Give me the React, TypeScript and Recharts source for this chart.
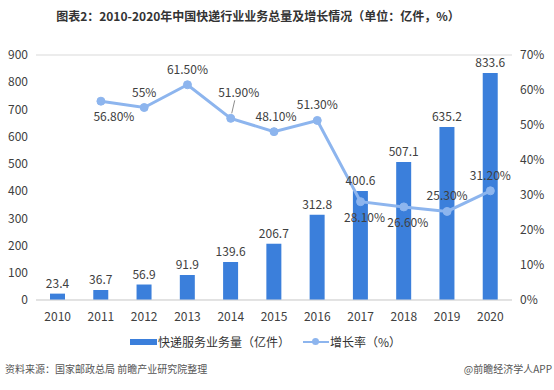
import React from 'react'
import { ComposedChart, Bar, Line, XAxis, YAxis, CartesianGrid, LabelList } from 'recharts'

const years = ['2010', '2011', '2012', '2013', '2014', '2015', '2016', '2017', '2018', '2019', '2020']
const volume = [23.4, 36.7, 56.9, 91.9, 139.6, 206.7, 312.8, 400.6, 507.1, 635.2, 833.6]
const growth: (number | null)[] = [null, 56.8, 55, 61.5, 51.9, 48.1, 51.3, 28.1, 26.6, 25.3, 31.2]
const growthText = ['', '56.80%', '55%', '61.50%', '51.90%', '48.10%', '51.30%', '28.10%', '26.60%', '25.30%', '31.20%']
const leftTicks = [0, 100, 200, 300, 400, 500, 600, 700, 800, 900]
const rightTicks = [0, 10, 20, 30, 40, 50, 60, 70]

const BAR = '#3b7fdb'
const LINE = '#8db5ee'
const FONT = '"Noto Sans CJK SC", "Noto Sans", sans-serif'

const data = years.map((y, i) => ({ year: y, volume: volume[i], growth: growth[i], text: growthText[i] }))

// labels under the point for these years
const below = new Set([1, 7, 8])

const GrowthLabel = (props: any) => {
  const { x, y, index } = props
  const t = growthText[index]
  if (!t || x == null) return null
  if (index === 4) {
    // 51.90% sits up-right with a small leader line
    return (
      <g>
        <line x1={x + 4} y1={y - 18} x2={x + 1} y2={y - 5} stroke="#8c8c8c" strokeWidth={1} />
        <text x={x + 8} y={y - 21} textAnchor="middle" fontSize={12} fill="#404040" fontFamily={FONT}>{t}</text>
      </g>
    )
  }
  const dx = index === 1 ? 13 : index === 7 || index === 8 ? 4 : index === 5 ? 2 : 0
  const ty = below.has(index) ? y + 20 : y - 11
  return (
    <text x={x + dx} y={ty} textAnchor="middle" fontSize={12} fill="#404040" fontFamily={FONT}>{t}</text>
  )
}

export default function App() {
  return (
    <div style={{ position: 'absolute', left: 0, top: 0, width: 554, height: 390, background: '#fff', fontFamily: FONT }}>
      <div style={{ position: 'absolute', left: 0, top: 7, width: 516, textAlign: 'center', fontSize: 12, fontWeight: 'bold', color: '#333' }}>
        图表2：2010-2020年中国快递行业业务总量及增长情况（单位：亿件，%）
      </div>
      <ComposedChart width={554} height={330} data={data} margin={{ top: 55, right: 0, left: 0, bottom: 0 }}>
        <CartesianGrid vertical={false} stroke="#d9d9d9" />
        <XAxis dataKey="year" axisLine={{ stroke: '#d9d9d9' }} tickLine={false} height={30} tickMargin={6}
          tick={{ fontSize: 12, fill: '#404040', fontFamily: FONT }} interval={0} />
        <YAxis yAxisId="l" domain={[0, 900]} ticks={leftTicks} width={36} axisLine={false} tickLine={false}
          tick={{ fontSize: 12, fill: '#404040', fontFamily: FONT }} />
        <YAxis yAxisId="r" orientation="right" domain={[0, 70]} ticks={rightTicks} width={42} axisLine={false} tickLine={false}
          tickFormatter={(v: number) => `${v}%`} tick={{ fontSize: 12, fill: '#404040', fontFamily: FONT }} />
        <Bar yAxisId="l" dataKey="volume" fill={BAR} barSize={15} isAnimationActive={false}>
          <LabelList dataKey="volume" position="top" offset={6} style={{ fontSize: 12, fill: '#404040', fontFamily: FONT }} />
        </Bar>
        <Line yAxisId="r" dataKey="growth" stroke={LINE} strokeWidth={3} connectNulls={false}
          dot={{ r: 4, fill: LINE, stroke: LINE, strokeWidth: 1 }} isAnimationActive={false}>
          <LabelList dataKey="growth" content={<GrowthLabel />} />
        </Line>
      </ComposedChart>
      <div style={{ position: 'absolute', top: 333, left: 0, width: 554, height: 18, fontSize: 12, color: '#333' }}>
        <div style={{ position: 'absolute', left: 130, top: 6, width: 27, height: 6, background: BAR }} />
        <div style={{ position: 'absolute', left: 158, top: 0 }}>快递服务业务量（亿件）</div>
        <div style={{ position: 'absolute', left: 303, top: 8, width: 26, height: 2, background: LINE }} />
        <div style={{ position: 'absolute', left: 312, top: 5, width: 7, height: 7, borderRadius: 4, background: LINE }} />
        <div style={{ position: 'absolute', left: 330, top: 0 }}>增长率（%）</div>
      </div>
      <div style={{ position: 'absolute', left: 5, top: 361, fontSize: 10, color: '#555' }}>资料来源：国家邮政总局 前瞻产业研究院整理</div>
      <div style={{ position: 'absolute', right: 2, top: 361, fontSize: 10, color: '#555' }}>@前瞻经济学人APP</div>
    </div>
  )
}
